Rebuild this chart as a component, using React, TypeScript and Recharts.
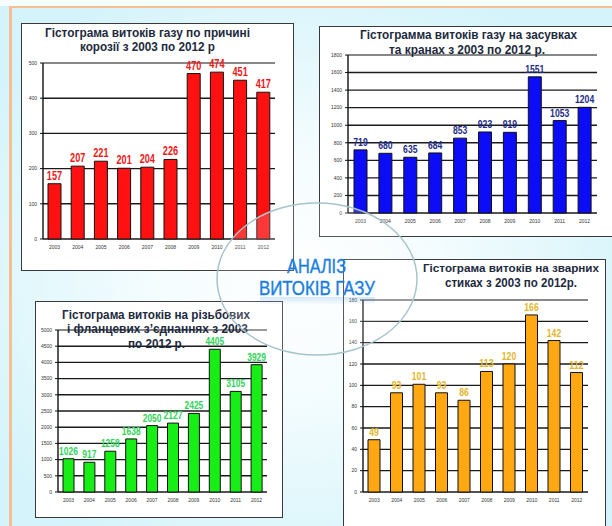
import React from 'react';
import { BarChart, Bar, XAxis, YAxis, CartesianGrid, LabelList, ReferenceLine } from 'recharts';

// ---------- data ----------
const years = ['2003', '2004', '2005', '2006', '2007', '2008', '2009', '2010', '2011', '2012'];
const corrosionLeaks = [157, 207, 221, 201, 204, 226, 470, 474, 451, 417];
const valveLeaks = [719, 680, 635, 684, 853, 923, 919, 1551, 1053, 1204];
const threadedLeaks = [1026, 917, 1258, 1638, 2050, 2127, 2425, 4405, 3105, 3929];
const weldLeaks = [49, 93, 101, 93, 86, 113, 120, 166, 142, 112];

const corrosionTicks = [0, 100, 200, 300, 400, 500];
const valveTicks = [0, 200, 400, 600, 800, 1000, 1200, 1400, 1600, 1800];
const threadedTicks = [0, 500, 1000, 1500, 2000, 2500, 3000, 3500, 4000, 4500, 5000];
const weldTicks = [0, 20, 40, 60, 80, 100, 120, 140, 160, 180];

const corrosionTitle = ['Гістограма  витоків газу по причині', 'корозії з 2003 по 2012  р'];
const valveTitle = ['Гістограмма витоків газу на засувках', 'та кранах  з 2003 по 2012 р.'];
const threadedTitle = ['Гістограма витоків  на різьбових', 'і фланцевих   з\u2019єднаннях  з 2003', 'по 2012 р.'];
const weldTitle = ['Гістограма витоків на зварних', 'стиках з 2003  по 2012р.'];
const centerTitle = ['АНАЛІЗ', 'ВИТОКІВ ГАЗУ'];

const NARROW = "'Liberation Sans Narrow', 'Arial Narrow', 'Liberation Sans', Arial, sans-serif";
const SANS = "'Liberation Sans', Arial, sans-serif";

type TitleLine = { text: string; x1: number; x2: number; y: number; size: number };

type PanelCfg = {
  x: number; y: number; w: number; h: number;
  L: number; T: number; R: number; B: number;
  values: number[]; ticks: number[];
  barColor: string; labelColor: string; labelSize: number; labelWeight: number | string;
  digitW: number; barSize: number;
};

function Panel({ cfg }: { cfg: PanelCfg }) {
  const data = years.map((year, i) => ({ year, value: cfg.values[i] }));
  const max = cfg.ticks[cfg.ticks.length - 1];
  const edgeTicks = years.map((_, i) => i).concat([years.length]);
  const renderLabel = (props: any) => {
    const { x, y, width, value } = props;
    const s = String(value);
    return (
      <text
        x={Number(x) + Number(width) / 2}
        y={Number(y) - 4}
        textAnchor="middle"
        textLength={s.length * cfg.digitW}
        lengthAdjust="spacingAndGlyphs"
        fill={cfg.labelColor}
        fontSize={cfg.labelSize}
        fontWeight={cfg.labelWeight}
        fontFamily={NARROW}
      >
        {s}
      </text>
    );
  };
  return (
    <>
      <div
        style={{
          position: 'absolute', left: cfg.x, top: cfg.y, width: cfg.w, height: cfg.h,
          background: '#ffffff', border: '1.5px solid #3a3a3a', boxSizing: 'border-box',
        }}
      />
      <div style={{ position: 'absolute', left: cfg.x, top: cfg.y }}>
        <BarChart
          width={cfg.w}
          height={cfg.h}
          data={data}
          margin={{ top: cfg.T, right: cfg.R, left: 0, bottom: 0 }}
          barCategoryGap={0}
        >
          <CartesianGrid vertical={false} stroke="#1a1a1a" strokeWidth={1.4} />
          <XAxis
            xAxisId="edge"
            type="number"
            domain={[0, years.length]}
            ticks={edgeTicks}
            tick={false}
            tickSize={3}
            height={0}
            axisLine={{ stroke: '#111', strokeWidth: 1.4 }}
            tickLine={{ stroke: '#111' }}
          />
          <XAxis
            dataKey="year"
            interval={0}
            axisLine={false}
            tickLine={false}
            tickSize={3}
            tickMargin={3}
            height={cfg.B}
            tick={{ fontSize: 5, fill: '#333', fontFamily: SANS }}
          />
          <YAxis
            domain={[0, max]}
            ticks={cfg.ticks}
            interval={0}
            width={cfg.L}
            tickSize={3}
            tickMargin={3}
            axisLine={{ stroke: '#111', strokeWidth: 1.4 }}
            tickLine={{ stroke: '#111' }}
            tick={{ fontSize: 5, fill: '#333', fontFamily: SANS }}
          />
          <YAxis
            yAxisId="r"
            orientation="right"
            domain={[0, max]}
            width={0}
            tick={false}
            tickLine={false}
            axisLine={{ stroke: '#9a9a9a', strokeWidth: 1.2 }}
          />
          <ReferenceLine y={max} stroke="#9a9a9a" strokeWidth={1.4} />
          <Bar
            dataKey="value"
            fill={cfg.barColor}
            stroke="#111"
            strokeWidth={1}
            barSize={cfg.barSize}
            isAnimationActive={false}
          >
            <LabelList dataKey="value" position="top" content={renderLabel} />
          </Bar>
        </BarChart>
      </div>
    </>
  );
}

const corrosionCfg: PanelCfg = {
  x: 21, y: 23, w: 273, h: 248, L: 22, T: 40, R: 19, B: 32,
  values: corrosionLeaks, ticks: corrosionTicks,
  barColor: '#ff1111', labelColor: '#f01818', labelSize: 12, labelWeight: 700, digitW: 5.1, barSize: 13,
};
const valveCfg: PanelCfg = {
  x: 319, y: 26, w: 295, h: 211, L: 29, T: 29, R: 17, B: 24,
  values: valveLeaks, ticks: valveTicks,
  barColor: '#0c0cf6', labelColor: '#232c88', labelSize: 11, labelWeight: 700, digitW: 4.8, barSize: 13,
};
const threadedCfg: PanelCfg = {
  x: 35, y: 301, w: 248, h: 217, L: 23, T: 29, R: 16, B: 26,
  values: threadedLeaks, ticks: threadedTicks,
  barColor: '#16ee16', labelColor: '#2fd45a', labelSize: 10, labelWeight: 700, digitW: 4.7, barSize: 11,
};
const weldCfg: PanelCfg = {
  x: 343, y: 259, w: 263, h: 290, L: 20, T: 41, R: 18, B: 57,
  values: weldLeaks, ticks: weldTicks,
  barColor: '#ffa812', labelColor: '#e4b52a', labelSize: 10, labelWeight: 700, digitW: 4.8, barSize: 12,
};

const titleLines: TitleLine[] = [
  { text: corrosionTitle[0], x1: 45, x2: 250, y: 37, size: 12 },
  { text: corrosionTitle[1], x1: 80, x2: 215, y: 51, size: 12 },
  { text: valveTitle[0], x1: 360, x2: 577, y: 39, size: 12 },
  { text: valveTitle[1], x1: 389, x2: 545, y: 54, size: 12 },
  { text: threadedTitle[0], x1: 62, x2: 250, y: 319, size: 12 },
  { text: threadedTitle[1], x1: 67, x2: 248, y: 333, size: 12 },
  { text: threadedTitle[2], x1: 128, x2: 185, y: 348, size: 12 },
  { text: weldTitle[0], x1: 423, x2: 599, y: 272, size: 11.5 },
  { text: weldTitle[1], x1: 445, x2: 577, y: 287, size: 12 },
];

export default function App() {
  return (
    <div
      style={{
        position: 'absolute', left: 0, top: 0, width: 612, height: 526, overflow: 'hidden',
        background: 'radial-gradient(ellipse 60% 60% at 48% 52%, #ffffff 0%, #f3fcfe 40%, #dcf6fb 85%, #d4f3fa 100%)',
      }}
    >
      <div style={{ position: 'absolute', left: 0, top: 0, width: 612, height: 6, background: '#f6fdfe' }} />
      <div style={{ position: 'absolute', left: 9, top: 6, width: 603, height: 2, background: '#f7be92' }} />
      <div style={{ position: 'absolute', left: 9, top: 6, width: 3, height: 520, background: '#f7be92' }} />

      <Panel cfg={corrosionCfg} />
      <Panel cfg={valveCfg} />
      <Panel cfg={threadedCfg} />
      <Panel cfg={weldCfg} />

      <svg
        width={612}
        height={526}
        style={{ position: 'absolute', left: 0, top: 0, pointerEvents: 'none' }}
      >
        <defs>
          <linearGradient id="glow" x1="0" y1="0" x2="0" y2="1">
            <stop offset="0%" stopColor="#1b7ede" stopOpacity={0.18} />
            <stop offset="100%" stopColor="#1b7ede" stopOpacity={0} />
          </linearGradient>
        </defs>
        {titleLines.map((t, i) => (
          <text
            key={i}
            x={t.x1}
            y={t.y}
            textLength={t.x2 - t.x1}
            lengthAdjust="spacingAndGlyphs"
            fontFamily={NARROW}
            fontWeight={700}
            fontSize={t.size}
            fill="#1d2a3e"
          >
            {t.text}
          </text>
        ))}
        <ellipse cx={317} cy={279} rx={100} ry={76} fill="rgba(255,255,255,0.16)" stroke="#a6c4cb" strokeWidth={1.5} />
        <rect x={260} y={297} width={115} height={8} fill="url(#glow)" />
        <text
          x={287}
          y={273}
          textLength={59}
          lengthAdjust="spacingAndGlyphs"
          fontFamily={NARROW}
          fontSize={20}
          fill="#1b7ede"
          stroke="#1b7ede"
          strokeWidth={0.4}
        >
          {centerTitle[0]}
        </text>
        <text
          x={259}
          y={295}
          textLength={116}
          lengthAdjust="spacingAndGlyphs"
          fontFamily={NARROW}
          fontSize={20}
          fill="#1b7ede"
          stroke="#1b7ede"
          strokeWidth={0.4}
        >
          {centerTitle[1]}
        </text>
      </svg>
    </div>
  );
}
